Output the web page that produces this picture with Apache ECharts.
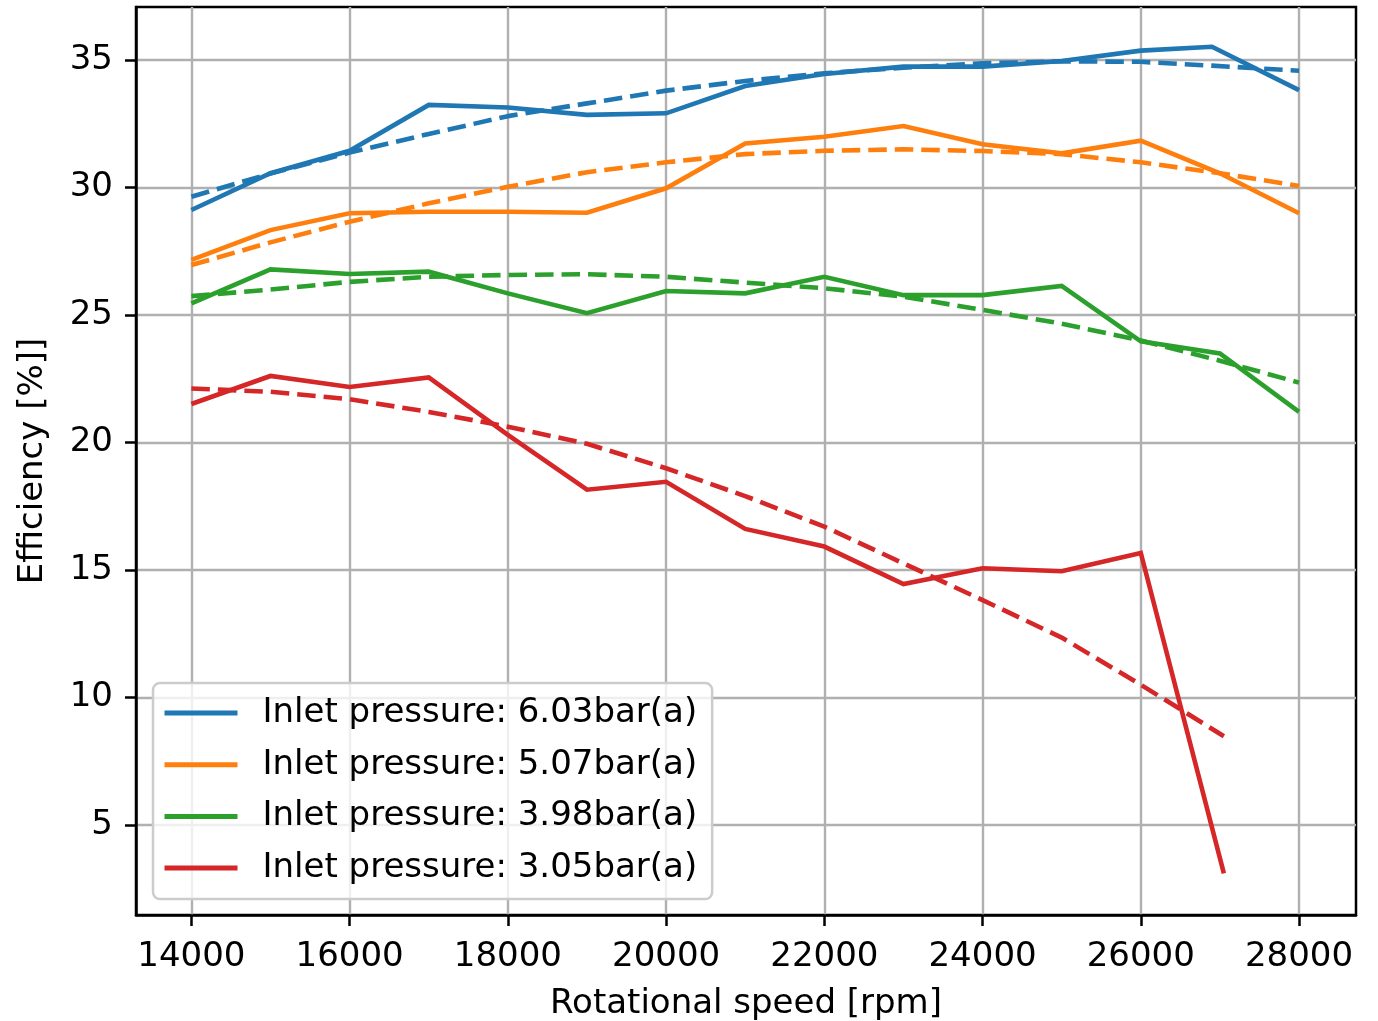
<!DOCTYPE html>
<html>
<head>
<meta charset="utf-8">
<script src="https://cdn.jsdelivr.net/npm/echarts@6/dist/echarts.min.js"></script>
<style>
html,body{margin:0;padding:0;background:#fff;}
#chart{width:1378px;height:1021px;}
</style>
</head>
<body>
<div id="chart"></div>
<script>
// ---- data ----
const xTicks = [14000, 16000, 18000, 20000, 22000, 24000, 26000, 28000];
const yTicks = [5, 10, 15, 20, 25, 30, 35];

const names = [
  'Inlet pressure: 6.03bar(a)',
  'Inlet pressure: 5.07bar(a)',
  'Inlet pressure: 3.98bar(a)',
  'Inlet pressure: 3.05bar(a)'
];
const colors = ['#1f77b4', '#ff7f0e', '#2ca02c', '#d62728'];

const blueX   = [14000,15000,16000,17000,18000,19000,20000,21000,22000,23000,24000,25000,26000,26900,28000];
const blueY   = [29.12,30.56,31.44,33.24,33.14,32.85,32.91,33.98,34.45,34.74,34.74,34.96,35.37,35.52,33.82];
const blueFit = [29.64,30.55,31.37,32.10,32.80,33.30,33.80,34.18,34.48,34.70,34.87,34.95,34.93,34.78,34.58];

const orangeX   = [14000,15000,16000,17000,18000,19000,20000,21000,22000,23000,24000,25000,26000,27000,28000];
const orangeY   = [27.16,28.33,28.99,29.05,29.05,29.01,29.97,31.73,31.99,32.41,31.70,31.34,31.84,30.56,28.99];
const orangeFit = [26.96,27.85,28.66,29.38,30.03,30.60,30.99,31.31,31.44,31.50,31.43,31.31,30.99,30.56,30.06];

const greenX   = [14000,15000,16000,17000,18000,19000,20000,21000,22000,23000,24000,25000,26000,27000,28000];
const greenY   = [25.46,26.79,26.61,26.70,25.85,25.07,25.94,25.85,26.50,25.78,25.78,26.14,23.97,23.49,21.20];
const greenFit = [25.74,26.00,26.30,26.50,26.57,26.60,26.50,26.27,26.05,25.72,25.20,24.66,24.00,23.21,22.35];

const redX   = [14000,15000,16000,17000,18000,19000,20000,21000,22000,23000,24000,25000,26000,27050];
const redY   = [21.51,22.61,22.18,22.55,20.30,18.15,18.46,16.61,15.92,14.45,15.07,14.95,15.67,3.10];
const redFit = [22.12,21.99,21.70,21.20,20.62,19.95,18.99,17.90,16.70,15.26,13.82,12.35,10.50,8.48];

// ---- build ----
const zip = (xs, ys) => xs.map((x, i) => [x, ys[i]]);
const groups = [
  [blueX, blueY, blueFit],
  [orangeX, orangeY, orangeFit],
  [greenX, greenY, greenFit],
  [redX, redY, redFit]
];
const FONT = 'DejaVu Sans';
const FS = 34;
const series = [];
groups.forEach((g, i) => {
  series.push({
    name: names[i], type: 'line', data: zip(g[0], g[1]),
    showSymbol: false, symbol: 'none', animation: false,
    lineStyle: {color: colors[i], width: 4.6, cap: 'butt', join: 'miter'},
    itemStyle: {color: colors[i]}, z: 3
  });
  series.push({
    name: 'fit' + i, type: 'line', data: zip(g[0], g[2]),
    showSymbol: false, symbol: 'none', animation: false,
    lineStyle: {color: colors[i], width: 4.6, type: [18.5, 8], cap: 'butt'},
    itemStyle: {color: colors[i]}, z: 3
  });
});

const chart = echarts.init(document.getElementById('chart'), null, {renderer: 'canvas'});
chart.setOption({
  animation: false,
  backgroundColor: '#fff',
  textStyle: {fontFamily: FONT},
  grid: {left: 136, top: 7, right: 22, bottom: 106, show: true,
         outerBoundsMode: 'none', containLabel: false,
         borderColor: '#000', borderWidth: 2.5, backgroundColor: 'transparent'},
  xAxis: {
    type: 'value', min: 13300, max: 28720,
    name: 'Rotational speed [rpm]', nameLocation: 'middle', nameGap: 72,
    nameTextStyle: {fontSize: FS, color: '#000', fontFamily: FONT},
    axisLine: {show: true, lineStyle: {color: '#000', width: 2.5}},
    axisTick: {show: true, inside: false, length: 11, customValues: xTicks,
               lineStyle: {color: '#000', width: 2.5}},
    axisLabel: {customValues: xTicks, fontSize: FS, color: '#000', margin: 25,
                fontFamily: FONT, formatter: v => String(v)},
    splitLine: {show: true, lineStyle: {color: '#b0b0b0', width: 2.4}}
  },
  yAxis: {
    type: 'value', min: 1.47, max: 37.08,
    name: 'Efficiency [%]]', nameLocation: 'middle', nameGap: 86,
    nameTextStyle: {fontSize: FS, color: '#000', fontFamily: FONT},
    axisLine: {show: true, lineStyle: {color: '#000', width: 2.5}},
    axisTick: {show: true, inside: false, length: 11, customValues: yTicks,
               lineStyle: {color: '#000', width: 2.5}},
    axisLabel: {customValues: yTicks, fontSize: FS, color: '#000', margin: 23,
                fontFamily: FONT, formatter: v => String(v)},
    splitLine: {show: true, lineStyle: {color: '#b0b0b0', width: 2.4}}
  },
  legend: {
    data: names, orient: 'vertical', left: 153, top: 683,
    icon: 'rect', itemWidth: 73, itemHeight: 5, itemGap: 11.7,
    padding: [10, 15, 11, 11.5],
    backgroundColor: 'rgba(255,255,255,0.8)', borderColor: '#cccccc',
    borderWidth: 2.5, borderRadius: 7,
    textStyle: {fontSize: FS, color: '#000', fontFamily: FONT, lineHeight: 40,
                padding: [0, 0, 0, 20]},
    selectedMode: false, z: 10
  },
  series: series
});
</script>
</body>
</html>
